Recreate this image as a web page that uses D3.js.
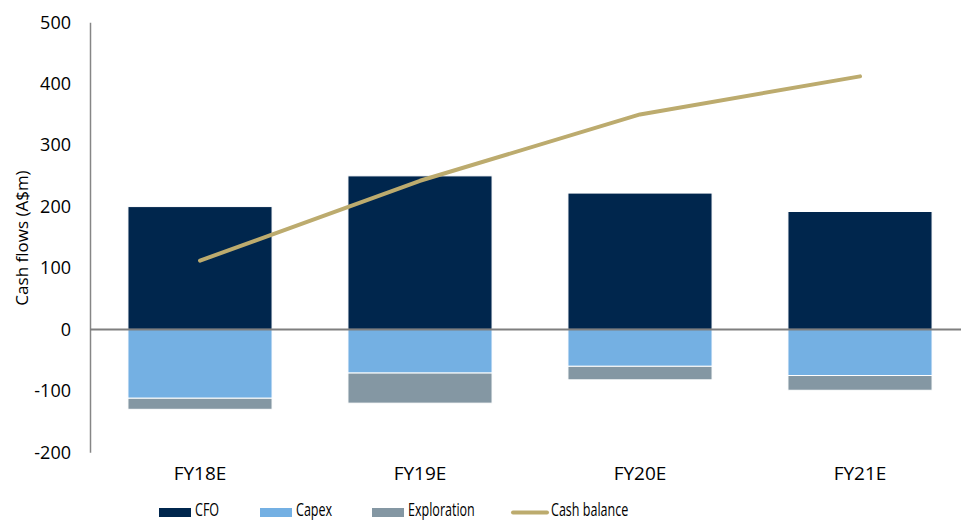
<!DOCTYPE html>
<html>
<head>
<meta charset="utf-8">
<script src="https://cdn.jsdelivr.net/npm/d3@7"></script>
<style>
  html, body { margin: 0; padding: 0; background: #fff; }
  svg { display: block; font-family: "Open Sans", "Noto Sans", sans-serif; }
</style>
</head>
<body>
<svg id="chart" width="961" height="521"></svg>
<script>
// Cash flow forecast, A$m
const years = ["FY18E", "FY19E", "FY20E", "FY21E"];
const cfo = [200, 250, 222, 192];
const capex = [-112, -71, -60, -75];
const exploration = [-18, -49, -22, -24];
const cashBalance = [112, 242, 350, 412];
const yTicks = [-200, -100, 0, 100, 200, 300, 400, 500];
const seriesNames = ["CFO", "Capex", "Exploration", "Cash balance"];

const colors = {
  CFO: "#00264d",
  Capex: "#74b0e3",
  Exploration: "#8497a3",
  "Cash balance": "#bcab6e"
};

const svg = d3.select("#chart");

const x = d3.scaleBand().domain(years).range([90, 970]).paddingInner(0.345).paddingOuter(0.1725);
const y = d3.scaleLinear().domain([-200, 500]).range([452.3, 22.3]);

const rows = years.map((yr, i) => ({ year: yr, CFO: cfo[i], Capex: capex[i], Exploration: exploration[i] }));
const stacked = d3.stack()
  .keys(["CFO", "Capex", "Exploration"])
  .offset(d3.stackOffsetDiverging)(rows);

// Stacked bars
svg.append("g").selectAll("g")
  .data(stacked)
  .join("g")
  .attr("fill", d => colors[d.key])
  .selectAll("rect")
  .data(d => d)
  .join("rect")
  .attr("x", d => x(d.data.year))
  .attr("width", x.bandwidth())
  .attr("y", d => y(Math.max(d[0], d[1])))
  .attr("height", d => Math.abs(y(d[0]) - y(d[1])))
  .attr("stroke", "#ffffff")
  .attr("stroke-width", 1);

// Vertical axis with tick labels (plain hyphen for negatives)
const yAxis = d3.axisLeft(y).tickValues(yTicks).tickSize(0).tickPadding(19).tickFormat(d => String(d));
const gy = svg.append("g").attr("transform", "translate(90,0)").call(yAxis);
gy.select(".domain").attr("stroke", "#868686").attr("stroke-width", 1.5);
gy.selectAll("text")
  .attr("font-size", 18)
  .attr("font-family", "'Open Sans', sans-serif")
  .attr("fill", "#000");

// Zero baseline across the plot
svg.append("line")
  .attr("x1", 90).attr("x2", 961)
  .attr("y1", y(0)).attr("y2", y(0))
  .attr("stroke", "#7f7f7f").attr("stroke-width", 2);

// Category labels
const xAxis = d3.axisBottom(x).tickSize(0).tickPadding(0);
const gx = svg.append("g").attr("transform", "translate(0,466)").call(xAxis);
gx.select(".domain").remove();
gx.selectAll("text")
  .attr("font-size", 19)
  .attr("font-family", "'Open Sans', sans-serif")
  .attr("fill", "#000");

// Cash balance line
const line = d3.line()
  .x((d, i) => x(years[i]) + x.bandwidth() / 2)
  .y(d => y(d));
svg.append("path")
  .datum(cashBalance)
  .attr("d", line)
  .attr("fill", "none")
  .attr("stroke", colors["Cash balance"])
  .attr("stroke-width", 4)
  .attr("stroke-linecap", "round")
  .attr("stroke-linejoin", "round");

// Axis title
svg.append("text")
  .attr("transform", "translate(28,238) rotate(-90)")
  .attr("text-anchor", "middle")
  .attr("font-size", 17)
  .attr("fill", "#000")
  .text("Cash flows (A$m)");

// Legend
const legendX = [159, 260, 372, 513];
const legend = svg.append("g");
seriesNames.forEach((name, i) => {
  const g = legend.append("g").attr("transform", `translate(${legendX[i]},0)`);
  if (name === "Cash balance") {
    g.append("line")
      .attr("x1", 0).attr("x2", 34).attr("y1", 512.5).attr("y2", 512.5)
      .attr("stroke", colors[name]).attr("stroke-width", 4).attr("stroke-linecap", "round");
  } else {
    g.append("rect")
      .attr("x", 0).attr("y", 508).attr("width", 32).attr("height", 9)
      .attr("fill", colors[name]);
  }
  const tx = name === "Cash balance" ? 38 : 36;
  g.append("text")
    .attr("transform", `translate(${tx},516) scale(0.66,1)`)
    .attr("font-size", 19)
    .attr("fill", "#000")
    .text(name);
});
</script>
</body>
</html>
